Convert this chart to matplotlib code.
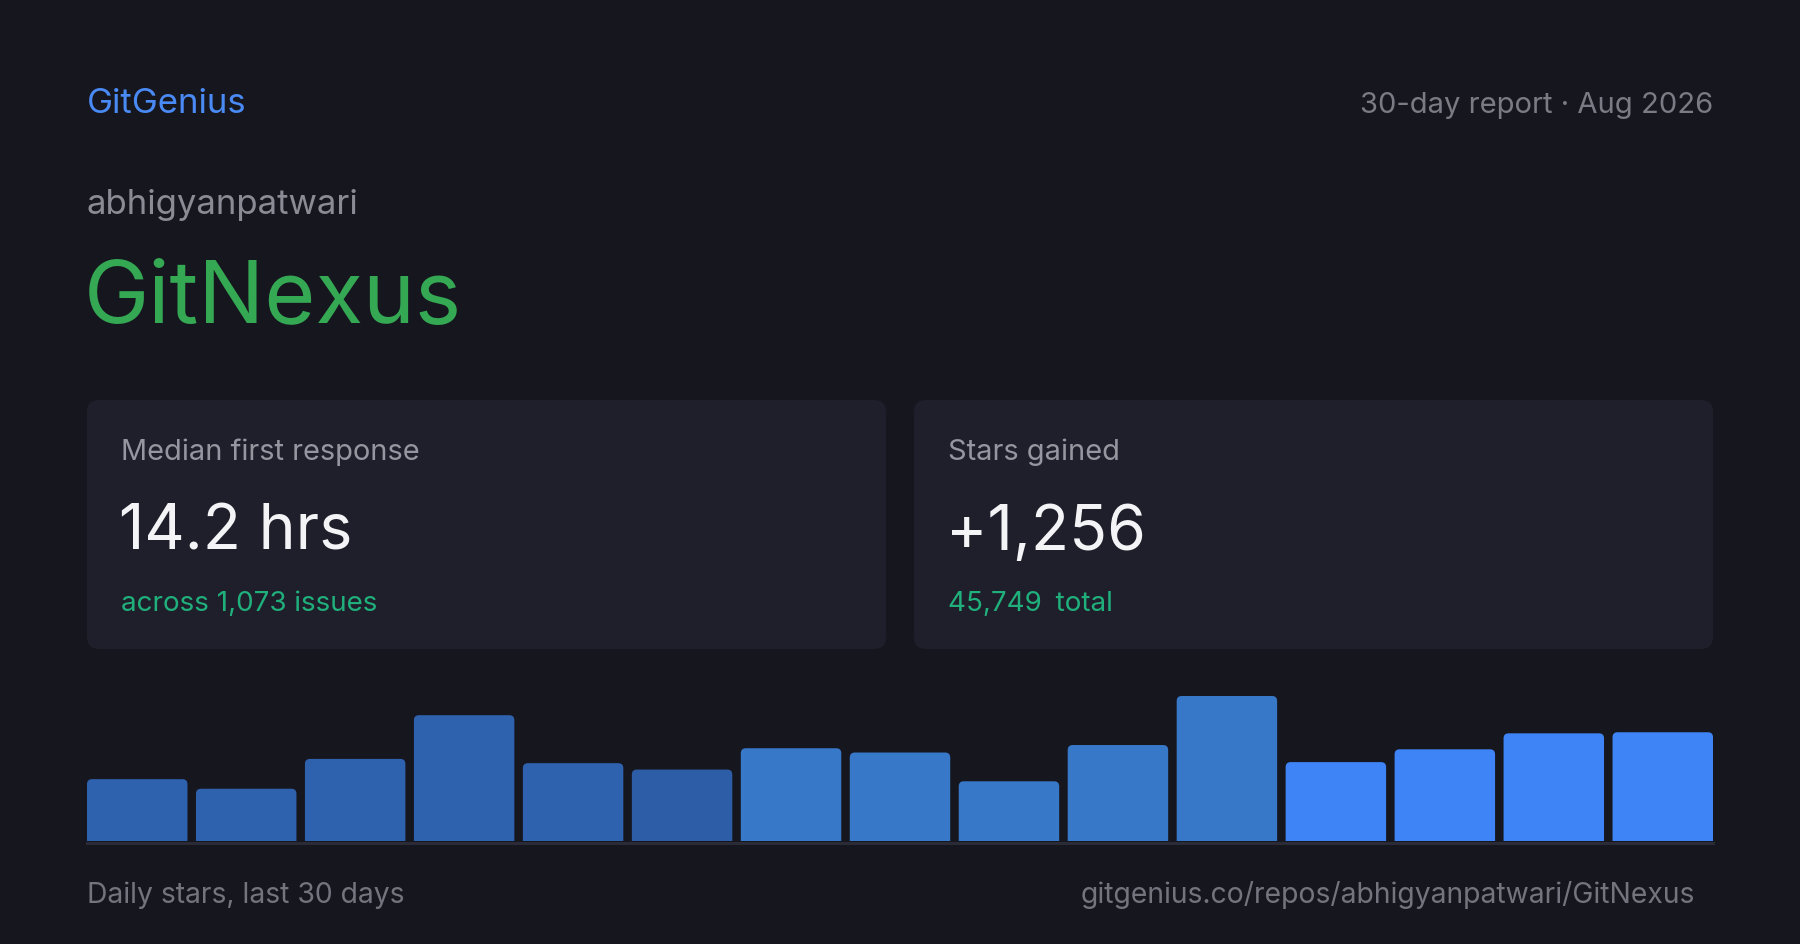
import matplotlib.pyplot as plt
from matplotlib.patches import FancyBboxPatch

# Data
brand = "GitGenius"
report = "30-day report \u00b7 Aug 2026"
owner = "abhigyanpatwari"
repo = "GitNexus"
card_labels = ["Median first response", "Stars gained"]
card_values = ["14.2 hrs", "+1,256"]
card_notes = ["across 1,073 issues", "45,749\u2002total"]
daily_stars = [58, 49, 77, 118, 73, 67, 87, 83, 56, 90, 136, 74, 86, 101, 102]
footer_left = "Daily stars, last 30 days"
footer_right = "gitgenius.co/repos/abhigyanpatwari/GitNexus"

# colours
bg = "#16161f"
card_bg = "#1f1f2b"
bar_colors = ["#2f62ae"] * 5 + ["#2d5da6"] + ["#3878c9"] * 5 + ["#3f84f6"] * 4

plt.rcParams['font.family'] = ['Inter', 'DejaVu Sans']

W, H = 1800, 945
fig = plt.figure(figsize=(W / 100, H / 100), dpi=100, facecolor=bg)

# pixel-space canvas for text and cards
ax = fig.add_axes([0, 0, 1, 1])
ax.set_xlim(0, W)
ax.set_ylim(H, 0)
ax.axis('off')
ax.set_facecolor(bg)

ax.text(87, 113, brand, color="#4a8af4", fontsize=25, va='baseline')
ax.text(1713, 113, report, color="#7b7b85", fontsize=21, va='baseline', ha='right')
ax.text(87, 214, owner, color="#8b8b95", fontsize=25, va='baseline')
ax.text(84, 323, repo, color="#34a853", fontsize=63, va='baseline')

card_x = [87, 914]
card_w = 799
for i in range(2):
    x0 = card_x[i]
    ax.add_patch(FancyBboxPatch((x0 + 12, 401 + 12), card_w - 24, 249 - 24,
                                boxstyle="round,pad=12", facecolor=card_bg,
                                edgecolor='none'))
    ax.text(x0 + 34, 460, card_labels[i], color="#9696a0", fontsize=20.9, va='baseline')
    ax.text(x0 + 32, 550, card_values[i], color="#f4f4f6", fontsize=45, va='baseline')
    ax.text(x0 + 34, 611, card_notes[i], color="#20b07c", fontsize=20, va='baseline')

ax.text(87, 903, footer_left, color="#74747e", fontsize=20.4, va='baseline')
ax.text(1695, 903, footer_right, color="#74747e", fontsize=20.4, va='baseline', ha='right')

# bar chart
left, right, base, top = 87, 1713, 842, 697
bw = 0.922
n = len(daily_stars)
bax = fig.add_axes([left / W, (H - base) / H, (right - left) / W, (base - top) / H])
bax.set_xlim(-bw / 2, n - 1 + bw / 2)
bax.set_ylim(0, max(daily_stars))
bax.axis('off')

bars = bax.bar(range(n), daily_stars, width=bw, color=bar_colors)

# rounded top corners (bottom corners fall below the axes and are clipped)
px_x = (right - left) / (n - 1 + bw)
px_y = (base - top) / max(daily_stars)
r_x = 5 / px_x
r_y = 5 / px_y
for rect, c in zip(bars, bar_colors):
    x, w, h = rect.get_x(), rect.get_width(), rect.get_height()
    rect.set_visible(False)
    p = FancyBboxPatch((x + r_x, 0), w - 2 * r_x, h - r_y,
                       boxstyle=f"round,pad={r_x},rounding_size={r_x}",
                       mutation_aspect=r_y / r_x, facecolor=c, edgecolor='none')
    bax.add_patch(p)

bax.axhline(-1.5 / px_y, color="#2b2b37", lw=2.2, clip_on=False)

fig.savefig("out.png", dpi=100, facecolor=bg)
